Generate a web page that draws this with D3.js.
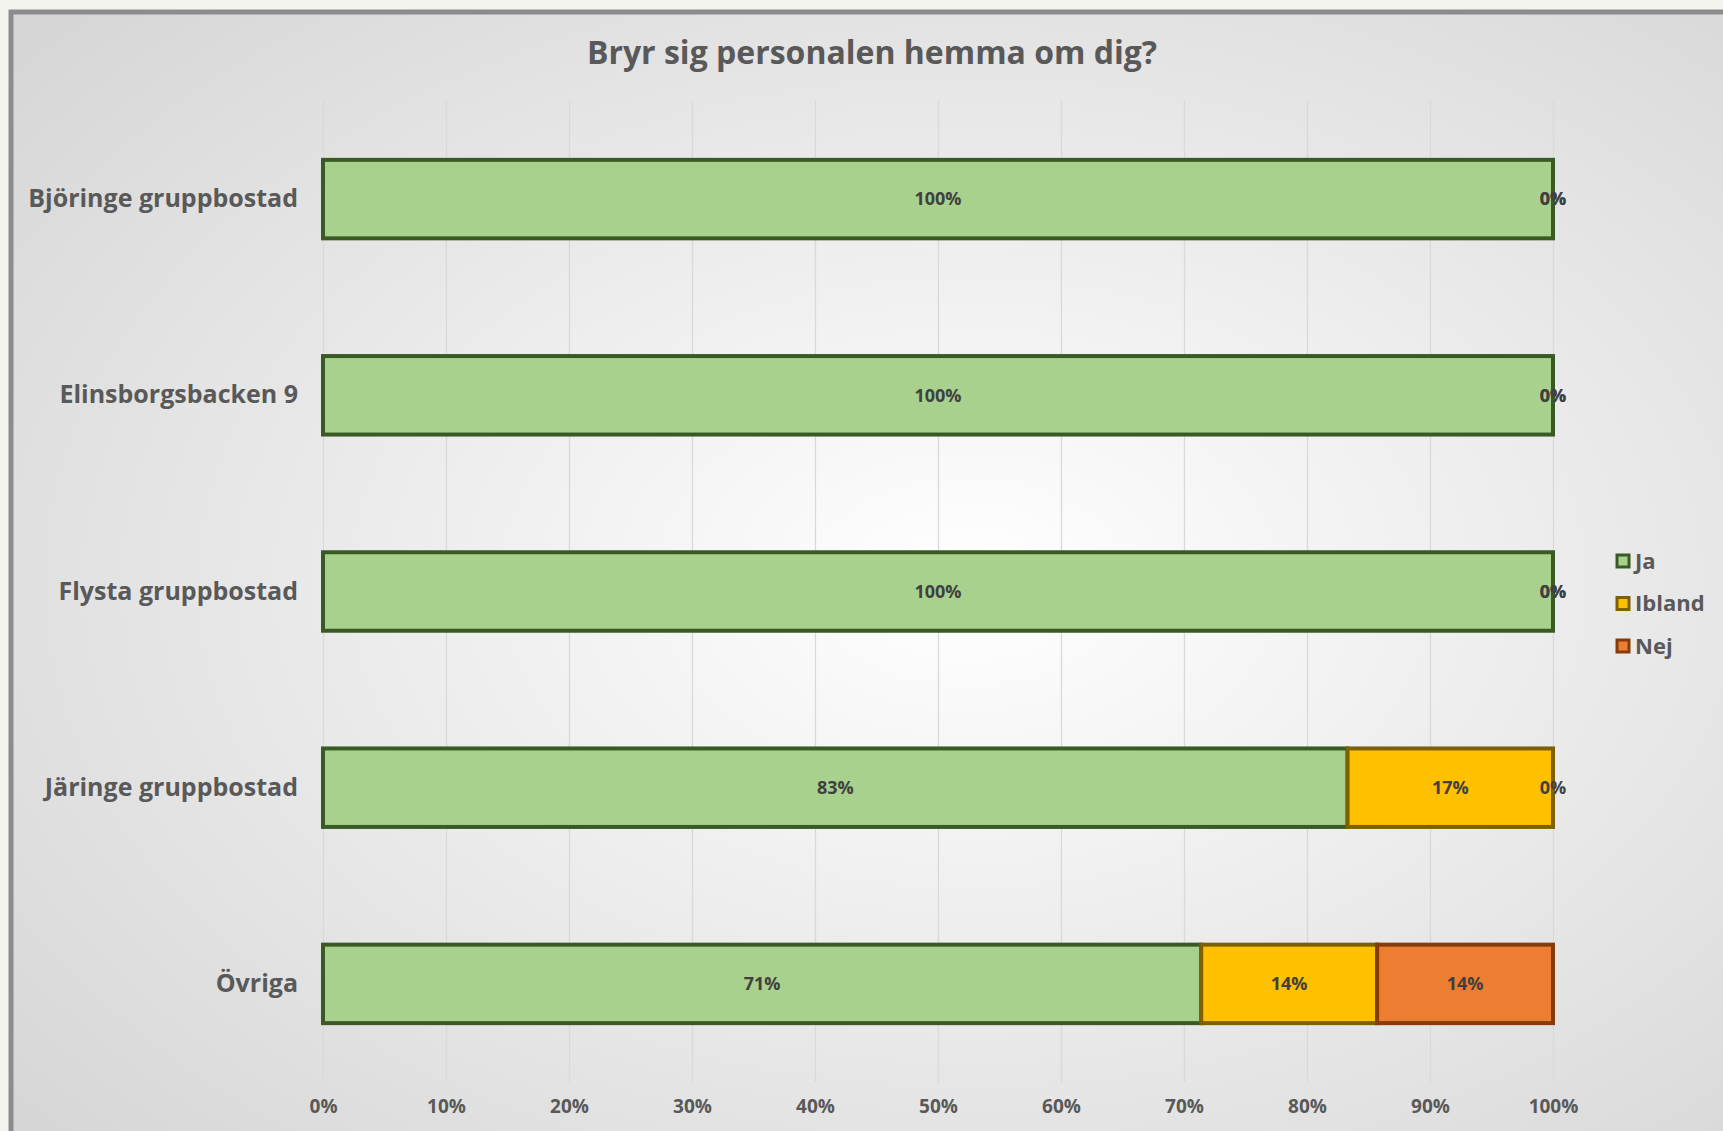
<!DOCTYPE html>
<html>
<head>
<meta charset="utf-8">
<script src="https://cdnjs.cloudflare.com/ajax/libs/d3/7.8.5/d3.min.js"></script>
<style>
  body { margin:0; background:#f4f4ef; }
  svg { display:block; }
  text { font-family: "Open Sans", "Lato", sans-serif; font-weight:bold; }
</style>
</head>
<body>
<div id="content"></div>
<script>
(function(){

  // data
  var categories = ["Björinge gruppbostad", "Elinsborgsbacken 9", "Flysta gruppbostad", "Järinge gruppbostad", "Övriga"];
  var seriesNames = ["Ja", "Ibland", "Nej"];
  var ja     = [100, 100, 100, 83.3, 71.4];
  var ibland = [0, 0, 0, 16.7, 14.3];
  var nej    = [0, 0, 0, 0, 14.3];
  var tickValues = [0, 10, 20, 30, 40, 50, 60, 70, 80, 90, 100];
  var title = "Bryr sig personalen hemma om dig?";

  var fills   = ["#a9d18e", "#ffc000", "#ed7d31"],
      strokes = ["#3a5a24", "#7f6000", "#843c0c"];

  var width = 1723, height = 1131;

  var svg = d3.select("#content").append("svg")
      .attr("width", width)
      .attr("height", height);

  // background gradient
  var defs = svg.append("defs");
  var grad = defs.append("radialGradient")
      .attr("id", "bg")
      .attr("cx", "55%").attr("cy", "50%").attr("r", "72%");
  grad.append("stop").attr("offset", "0%").attr("stop-color", "#ffffff");
  grad.append("stop").attr("offset", "100%").attr("stop-color", "#d6d6d6");

  svg.append("rect")
      .attr("x", 11).attr("y", 12)
      .attr("width", 1740).attr("height", 1140)
      .style("fill", "url(#bg)")
      .style("stroke", "#8c8c8c")
      .style("stroke-width", 5);

  var x = d3.scaleLinear().domain([0, 100]).range([323, 1553]);
  var y = d3.scaleBand().domain(categories).range([101, 1082])
      .paddingInner(0.6).paddingOuter(0.3);

  // gridlines + x axis
  var xAxis = svg.append("g")
      .attr("transform", "translate(0,1082)")
      .call(d3.axisBottom(x).tickValues(tickValues)
        .tickSize(-(1082 - 101)).tickPadding(18)
        .tickFormat(function(d){ return d + "%"; }));
  xAxis.select(".domain").remove();
  xAxis.selectAll("line").style("stroke", "#d9d9d9").style("stroke-width", 1.3);
  xAxis.selectAll("text")
      .style("font-size", "19px")
      .style("fill", "#595959");

  // category axis
  var yAxis = svg.append("g")
      .attr("transform", "translate(323,0)")
      .call(d3.axisLeft(y).tickSize(0).tickPadding(25));
  yAxis.select(".domain").remove();
  yAxis.selectAll("text")
      .style("font-size", "25px")
      .style("fill", "#595959");

  // stack
  var rows = categories.map(function(c, i){
    return { cat: c, Ja: ja[i], Ibland: ibland[i], Nej: nej[i] };
  });
  var stacked = d3.stack().keys(seriesNames)(rows);

  var layers = svg.selectAll(".layer")
      .data(stacked)
    .enter().append("g")
      .attr("class", "layer");

  layers.selectAll("rect")
      .data(function(d){ return d.filter(function(p){ return p[1] - p[0] > 0; }); })
    .enter().append("rect")
      .attr("x", function(d){ return x(d[0]); })
      .attr("y", function(d){ return y(d.data.cat); })
      .attr("width", function(d){ return x(d[1]) - x(d[0]); })
      .attr("height", y.bandwidth())
      .style("fill", function(){ return fills[this.parentNode.__data__.index]; })
      .style("stroke", function(){ return strokes[this.parentNode.__data__.index]; })
      .style("stroke-width", 4);

  // data labels
  layers.selectAll(".lbl")
      .data(function(d){ return d; })
    .enter().append("text")
      .attr("class", "lbl")
      .attr("x", function(d){ return x((d[0] + d[1]) / 2); })
      .attr("y", function(d){ return y(d.data.cat) + y.bandwidth() / 2; })
      .attr("dy", "0.35em")
      .attr("text-anchor", "middle")
      .style("font-size", "18px")
      .style("fill", "#404040")
      .text(function(d){ return Math.round(d[1] - d[0]) + "%"; });

  // title
  svg.append("text")
      .attr("x", 872).attr("y", 53)
      .attr("dy", "0.35em")
      .attr("text-anchor", "middle")
      .style("font-size", "32px")
      .style("fill", "#595959")
      .text(title);

  // legend
  var legend = svg.selectAll(".legend")
      .data(seriesNames)
    .enter().append("g")
      .attr("class", "legend")
      .attr("transform", function(d, i){ return "translate(1617," + (561 + i * 42.5) + ")"; });

  legend.append("rect")
      .attr("x", 0).attr("y", -6)
      .attr("width", 12).attr("height", 12)
      .style("fill", function(d, i){ return fills[i]; })
      .style("stroke", function(d, i){ return strokes[i]; })
      .style("stroke-width", 3);

  legend.append("text")
      .attr("x", 18).attr("y", 0)
      .attr("dy", "0.35em")
      .style("font-size", "22px")
      .style("fill", "#595959")
      .text(function(d){ return d; });

})();
</script>
</body>
</html>
